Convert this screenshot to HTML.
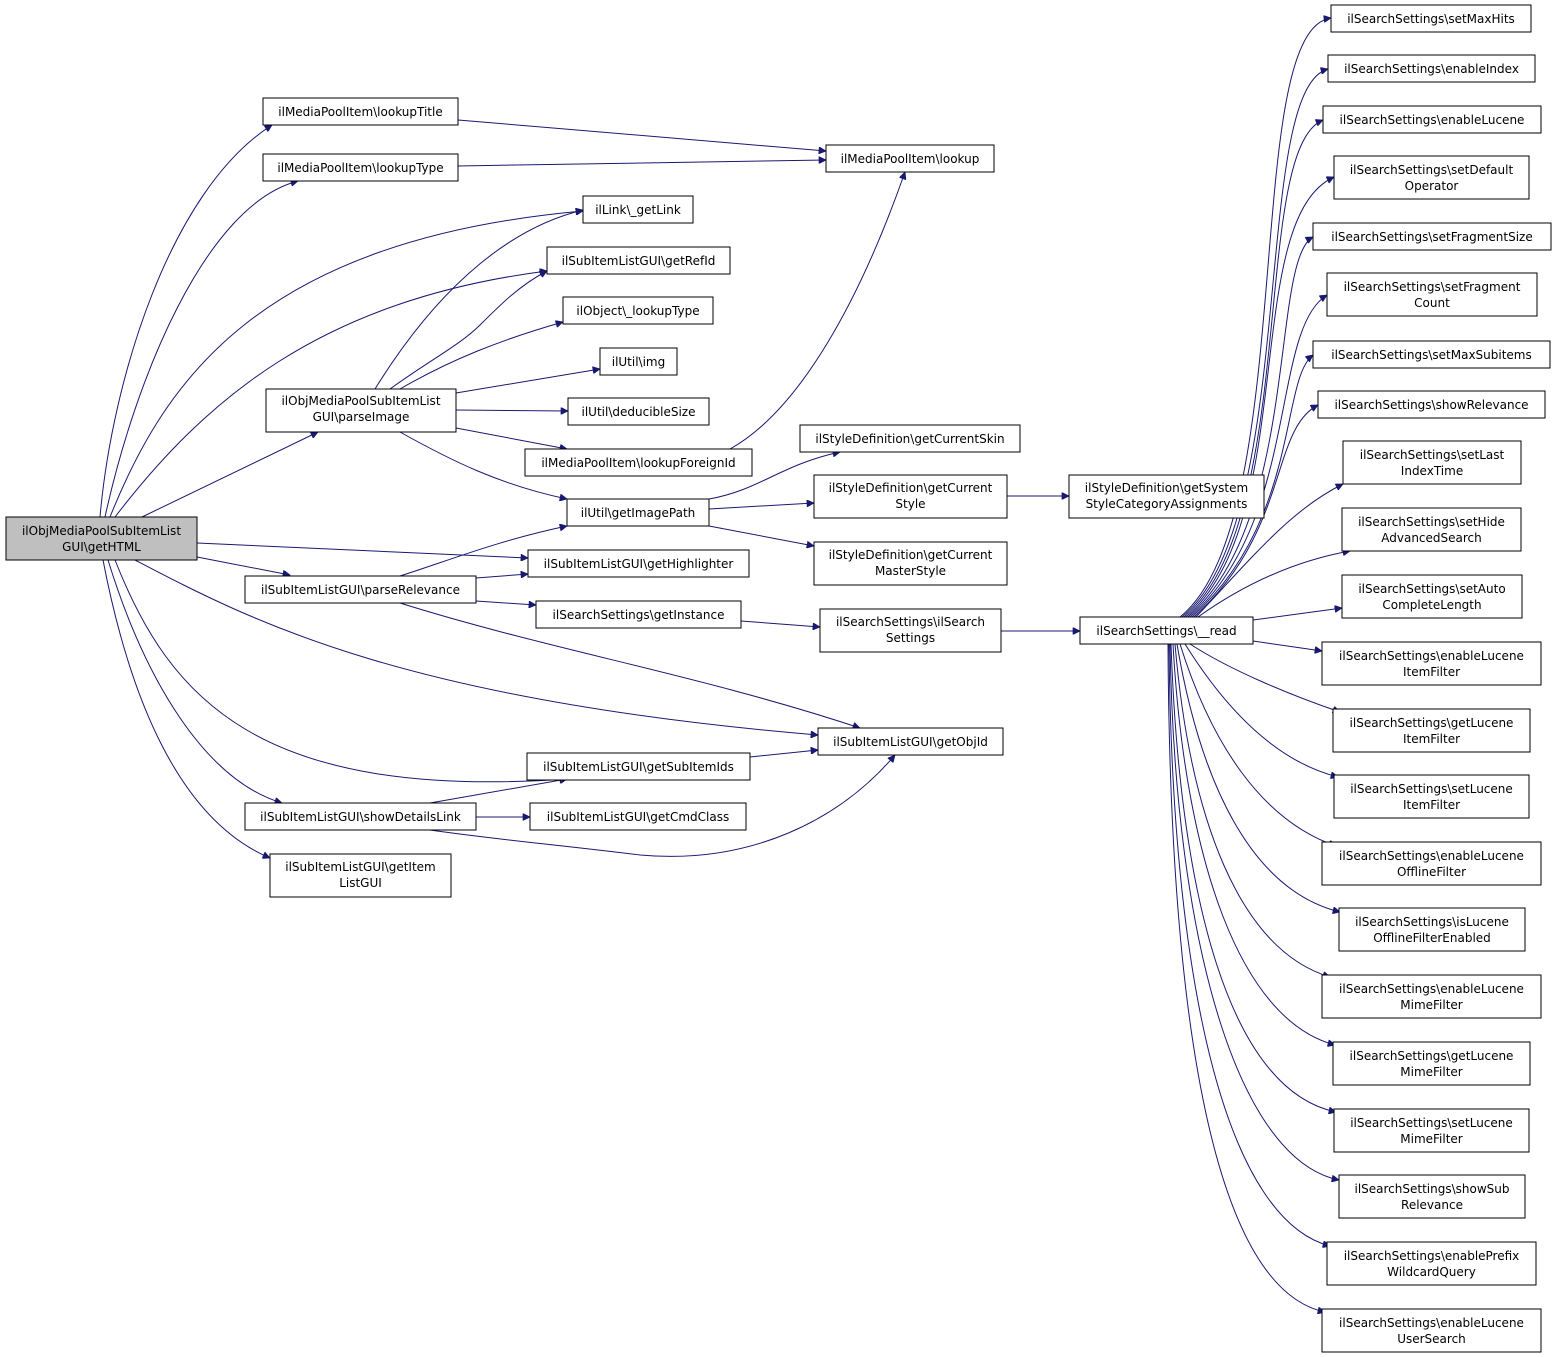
<!DOCTYPE html>
<html><head><meta charset="utf-8"><style>
html,body{margin:0;padding:0;background:#fff;}
svg{display:block;}
text{font-family:"DejaVu Sans","Liberation Sans",sans-serif;font-size:12px;fill:#000;}
.n{fill:#fff;stroke:#000;stroke-width:1;}
.e{fill:none;stroke:#191970;stroke-width:1;}
</style></head><body>
<svg width="1557" height="1357" viewBox="0 0 1557 1357" xmlns="http://www.w3.org/2000/svg">
<defs><marker id="a" viewBox="0 0 10 10" refX="10" refY="5" markerWidth="10" markerHeight="7" markerUnits="userSpaceOnUse" orient="auto"><path d="M0,0 L10,5 L0,10 z" fill="#191970" stroke="#191970"/></marker></defs>
<g class="e" marker-end="url(#a)">
<path d="M100,517 C112,380 170,190 272,125"/>
<path d="M105,517 C135,380 205,205 298,181"/>
<path d="M110,517 C165,380 260,240 583,211"/>
<path d="M115,517 C205,400 320,300 547,271"/>
<path d="M142,517 L318,432"/>
<path d="M197,543 L528,558"/>
<path d="M197,557 L290,575"/>
<path d="M135,560 C250,620 400,700 818,735"/>
<path d="M115,560 C170,700 260,800 567,779"/>
<path d="M108,560 C145,680 205,780 282,803"/>
<path d="M103,560 C130,700 180,820 270,858"/>
<path d="M375,389 C430,300 500,230 583,210"/>
<path d="M390,389 C430,360 460,345 480,325 C500,305 520,285 547,271"/>
<path d="M400,389 C450,360 500,340 563,322"/>
<path d="M456,393 L600,369"/>
<path d="M456,410 L568,411"/>
<path d="M456,428 L567,449"/>
<path d="M400,432 C450,460 500,485 567,499"/>
<path d="M730,449 C800,410 860,300 905,172"/>
<path d="M458,120 L826,151"/>
<path d="M458,166 L826,160"/>
<path d="M709,499 C760,490 780,465 840,452"/>
<path d="M709,509 L814,503"/>
<path d="M709,526 L814,546"/>
<path d="M1007,496 L1069,496"/>
<path d="M400,576 C450,560 500,540 567,526"/>
<path d="M476,578 L528,574"/>
<path d="M476,601 L536,605"/>
<path d="M400,603 C550,650 700,675 860,728"/>
<path d="M741,621 L820,627"/>
<path d="M1001,631 L1080,631"/>
<path d="M750,757 L818,750"/>
<path d="M430,803 L567,779"/>
<path d="M476,817 L530,817"/>
<path d="M430,830 C500,840 560,845 640,855 C750,865 840,820 895,755"/>
<!-- __read to upper -->
<path d="M1180,617 C1300,520 1240,30 1331,18"/>
<path d="M1182,617 C1300,520 1250,90 1328,69"/>
<path d="M1184,617 C1300,520 1250,150 1323,120"/>
<path d="M1186,617 C1300,520 1240,220 1334,177"/>
<path d="M1188,617 C1300,520 1270,260 1313,237"/>
<path d="M1190,617 C1300,520 1270,330 1327,295"/>
<path d="M1192,617 C1300,520 1280,380 1313,355"/>
<path d="M1194,617 C1290,530 1270,430 1318,405"/>
<path d="M1196,617 C1250,560 1290,510 1343,484"/>
<path d="M1198,617 C1250,580 1300,560 1350,551"/>
<path d="M1253,620 L1342,608"/>
<!-- __read to lower -->
<path d="M1253,641 L1322,651"/>
<path d="M1190,644 C1230,670 1290,695 1340,712"/>
<path d="M1185,644 C1220,700 1270,760 1338,777"/>
<path d="M1180,644 C1210,740 1260,820 1336,846"/>
<path d="M1177,644 C1200,780 1250,890 1340,912"/>
<path d="M1175,644 C1190,820 1240,950 1330,977"/>
<path d="M1173,644 C1185,860 1240,1020 1335,1045"/>
<path d="M1171,644 C1180,900 1230,1090 1336,1112"/>
<path d="M1170,644 C1175,950 1240,1160 1339,1180"/>
<path d="M1169,644 C1172,1000 1230,1220 1330,1246"/>
<path d="M1168,644 C1170,1050 1220,1290 1325,1312"/>
</g>
<g>
<rect x="6" y="517" width="191" height="43" fill="#bfbfbf" stroke="#000"/>
<text x="101.5" y="535" text-anchor="middle">ilObjMediaPoolSubItemList</text>
<text x="101.5" y="551" text-anchor="middle">GUI\getHTML</text>
</g>
<g class="nodes">
<rect class="n" x="263" y="98" width="195" height="27"/><text x="360.5" y="116" text-anchor="middle">ilMediaPoolItem\lookupTitle</text>
<rect class="n" x="263" y="154" width="195" height="27"/><text x="360.5" y="172" text-anchor="middle">ilMediaPoolItem\lookupType</text>
<rect class="n" x="266" y="389" width="190" height="43"/><text x="361" y="405" text-anchor="middle">ilObjMediaPoolSubItemList</text><text x="361" y="421" text-anchor="middle">GUI\parseImage</text>
<rect class="n" x="245" y="576" width="231" height="27"/><text x="360.5" y="594" text-anchor="middle">ilSubItemListGUI\parseRelevance</text>
<rect class="n" x="245" y="803" width="231" height="27"/><text x="360.5" y="821" text-anchor="middle">ilSubItemListGUI\showDetailsLink</text>
<rect class="n" x="270" y="854" width="181" height="43"/><text x="360.5" y="871" text-anchor="middle">ilSubItemListGUI\getItem</text><text x="360.5" y="887" text-anchor="middle">ListGUI</text>

<rect class="n" x="583" y="196" width="110" height="27"/><text x="638" y="214" text-anchor="middle">ilLink\_getLink</text>
<rect class="n" x="547" y="247" width="183" height="27"/><text x="638.5" y="265" text-anchor="middle">ilSubItemListGUI\getRefId</text>
<rect class="n" x="563" y="297" width="150" height="27"/><text x="638" y="315" text-anchor="middle">ilObject\_lookupType</text>
<rect class="n" x="600" y="348" width="77" height="27"/><text x="638.5" y="366" text-anchor="middle">ilUtil\img</text>
<rect class="n" x="568" y="398" width="141" height="27"/><text x="638.5" y="416" text-anchor="middle">ilUtil\deducibleSize</text>
<rect class="n" x="525" y="449" width="227" height="27"/><text x="638.5" y="467" text-anchor="middle">ilMediaPoolItem\lookupForeignId</text>
<rect class="n" x="567" y="499" width="142" height="27"/><text x="638" y="517" text-anchor="middle">ilUtil\getImagePath</text>
<rect class="n" x="528" y="550" width="221" height="27"/><text x="638.5" y="568" text-anchor="middle">ilSubItemListGUI\getHighlighter</text>
<rect class="n" x="536" y="601" width="205" height="27"/><text x="638.5" y="619" text-anchor="middle">ilSearchSettings\getInstance</text>
<rect class="n" x="527" y="753" width="223" height="27"/><text x="638.5" y="771" text-anchor="middle">ilSubItemListGUI\getSubItemIds</text>
<rect class="n" x="530" y="803" width="216" height="27"/><text x="638" y="821" text-anchor="middle">ilSubItemListGUI\getCmdClass</text>

<rect class="n" x="826" y="145" width="168" height="27"/><text x="910" y="163" text-anchor="middle">ilMediaPoolItem\lookup</text>
<rect class="n" x="800" y="425" width="220" height="27"/><text x="910" y="443" text-anchor="middle">ilStyleDefinition\getCurrentSkin</text>
<rect class="n" x="814" y="475" width="193" height="43"/><text x="910.5" y="492" text-anchor="middle">ilStyleDefinition\getCurrent</text><text x="910.5" y="508" text-anchor="middle">Style</text>
<rect class="n" x="814" y="542" width="193" height="43"/><text x="910.5" y="559" text-anchor="middle">ilStyleDefinition\getCurrent</text><text x="910.5" y="575" text-anchor="middle">MasterStyle</text>
<rect class="n" x="820" y="609" width="181" height="43"/><text x="910.5" y="626" text-anchor="middle">ilSearchSettings\ilSearch</text><text x="910.5" y="642" text-anchor="middle">Settings</text>
<rect class="n" x="818" y="728" width="185" height="27"/><text x="910.5" y="746" text-anchor="middle">ilSubItemListGUI\getObjId</text>

<rect class="n" x="1069" y="475" width="195" height="43"/><text x="1166.5" y="492" text-anchor="middle">ilStyleDefinition\getSystem</text><text x="1166.5" y="508" text-anchor="middle">StyleCategoryAssignments</text>
<rect class="n" x="1080" y="617" width="173" height="27"/><text x="1166.5" y="635" text-anchor="middle">ilSearchSettings\__read</text>

<rect class="n" x="1331" y="5" width="200" height="27"/><text x="1431" y="23" text-anchor="middle">ilSearchSettings\setMaxHits</text>
<rect class="n" x="1328" y="55" width="207" height="27"/><text x="1431.5" y="73" text-anchor="middle">ilSearchSettings\enableIndex</text>
<rect class="n" x="1323" y="106" width="218" height="27"/><text x="1432" y="124" text-anchor="middle">ilSearchSettings\enableLucene</text>
<rect class="n" x="1334" y="156" width="195" height="43"/><text x="1431.5" y="174" text-anchor="middle">ilSearchSettings\setDefault</text><text x="1431.5" y="190" text-anchor="middle">Operator</text>
<rect class="n" x="1313" y="223" width="238" height="27"/><text x="1432" y="241" text-anchor="middle">ilSearchSettings\setFragmentSize</text>
<rect class="n" x="1327" y="273" width="210" height="43"/><text x="1432" y="291" text-anchor="middle">ilSearchSettings\setFragment</text><text x="1432" y="307" text-anchor="middle">Count</text>
<rect class="n" x="1313" y="341" width="237" height="27"/><text x="1431.5" y="359" text-anchor="middle">ilSearchSettings\setMaxSubitems</text>
<rect class="n" x="1318" y="391" width="227" height="27"/><text x="1431.5" y="409" text-anchor="middle">ilSearchSettings\showRelevance</text>
<rect class="n" x="1343" y="441" width="178" height="43"/><text x="1432" y="459" text-anchor="middle">ilSearchSettings\setLast</text><text x="1432" y="475" text-anchor="middle">IndexTime</text>
<rect class="n" x="1342" y="508" width="179" height="43"/><text x="1431.5" y="526" text-anchor="middle">ilSearchSettings\setHide</text><text x="1431.5" y="542" text-anchor="middle">AdvancedSearch</text>
<rect class="n" x="1342" y="575" width="180" height="43"/><text x="1432" y="593" text-anchor="middle">ilSearchSettings\setAuto</text><text x="1432" y="609" text-anchor="middle">CompleteLength</text>
<rect class="n" x="1322" y="642" width="219" height="43"/><text x="1431.5" y="660" text-anchor="middle">ilSearchSettings\enableLucene</text><text x="1431.5" y="676" text-anchor="middle">ItemFilter</text>
<rect class="n" x="1333" y="709" width="197" height="43"/><text x="1431.5" y="727" text-anchor="middle">ilSearchSettings\getLucene</text><text x="1431.5" y="743" text-anchor="middle">ItemFilter</text>
<rect class="n" x="1334" y="775" width="195" height="43"/><text x="1431.5" y="793" text-anchor="middle">ilSearchSettings\setLucene</text><text x="1431.5" y="809" text-anchor="middle">ItemFilter</text>
<rect class="n" x="1322" y="842" width="219" height="43"/><text x="1431.5" y="860" text-anchor="middle">ilSearchSettings\enableLucene</text><text x="1431.5" y="876" text-anchor="middle">OfflineFilter</text>
<rect class="n" x="1339" y="908" width="186" height="43"/><text x="1432" y="926" text-anchor="middle">ilSearchSettings\isLucene</text><text x="1432" y="942" text-anchor="middle">OfflineFilterEnabled</text>
<rect class="n" x="1322" y="975" width="219" height="43"/><text x="1431.5" y="993" text-anchor="middle">ilSearchSettings\enableLucene</text><text x="1431.5" y="1009" text-anchor="middle">MimeFilter</text>
<rect class="n" x="1333" y="1042" width="197" height="43"/><text x="1431.5" y="1060" text-anchor="middle">ilSearchSettings\getLucene</text><text x="1431.5" y="1076" text-anchor="middle">MimeFilter</text>
<rect class="n" x="1334" y="1109" width="195" height="43"/><text x="1431.5" y="1127" text-anchor="middle">ilSearchSettings\setLucene</text><text x="1431.5" y="1143" text-anchor="middle">MimeFilter</text>
<rect class="n" x="1339" y="1175" width="186" height="43"/><text x="1432" y="1193" text-anchor="middle">ilSearchSettings\showSub</text><text x="1432" y="1209" text-anchor="middle">Relevance</text>
<rect class="n" x="1327" y="1242" width="209" height="43"/><text x="1431.5" y="1260" text-anchor="middle">ilSearchSettings\enablePrefix</text><text x="1431.5" y="1276" text-anchor="middle">WildcardQuery</text>
<rect class="n" x="1322" y="1309" width="219" height="43"/><text x="1431.5" y="1327" text-anchor="middle">ilSearchSettings\enableLucene</text><text x="1431.5" y="1343" text-anchor="middle">UserSearch</text>
</g>
</svg>
</body></html>
